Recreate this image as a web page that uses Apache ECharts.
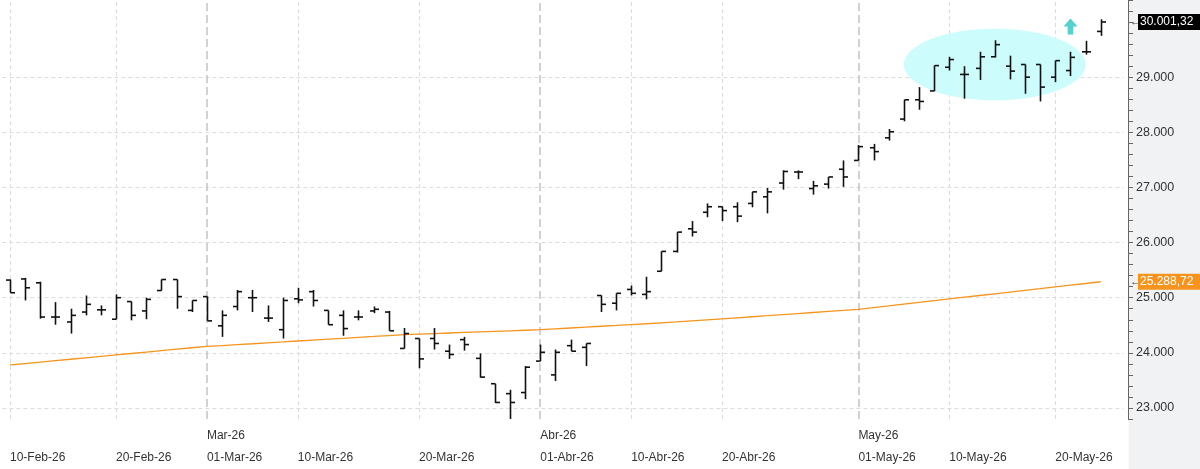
<!DOCTYPE html>
<html><head><meta charset="utf-8">
<script src="https://cdn.jsdelivr.net/npm/echarts@6/dist/echarts.min.js"></script>
<style>html,body{margin:0;padding:0;background:#fff}#c{width:1200px;height:469px}</style>
</head><body><div id="c"></div>
<script>
const opens  = [25320,25340,25270,24650,24560,24740,24780,24610,24930,24760,25130,25330,24770,25020,24490,24840,25000,24630,24420,24980,25110,24770,24680,24650,24760,24740,24080,24260,24260,24030,24240,23900,23440,23260,23280,23850,23600,24130,24100,25040,24900,25150,25060,25480,25840,26250,26550,26650,26650,26710,26830,27080,27280,26980,27060,27330,27490,27720,27900,28240,28590,28750,29180,29050,29160,29370,29200,29230,29230,29000,29120,29460,29830];
const highs  = [25330,25360,25290,24920,24800,25040,24860,25060,24930,25000,25330,25330,24950,25020,24770,25140,25140,24860,25000,25180,25140,24770,24770,24770,24840,24760,24450,24260,24450,24150,24290,23990,23440,23330,23760,24150,24060,24240,24170,25040,25080,25220,25380,25840,26190,26390,26710,26650,26730,26920,26990,27310,27310,27120,27190,27490,27770,27790,28060,28590,28820,29210,29370,29200,29460,29670,29390,29230,29230,29300,29460,29660,30050];
const lows   = [25090,24950,24620,24510,24350,24680,24680,24610,24590,24610,25130,24800,24740,24580,24290,24770,24740,24560,24260,24900,24840,24510,24310,24590,24720,24400,24080,23720,24060,23890,24040,23550,23090,22800,23160,23850,23490,24030,23760,24740,24770,25040,24970,25480,25820,26110,26460,26390,26370,26640,26530,26960,27150,26870,26980,27010,27490,27490,27850,28200,28410,28750,29120,28610,28950,29360,28960,28700,28560,28910,29020,29410,29750];
const closes = [25090,25180,24650,24650,24680,24880,24780,25000,24680,24970,25330,25020,24950,24580,24680,25110,25000,24630,24950,24960,24950,24510,24440,24650,24790,24400,24350,23890,24170,23970,24150,23560,23100,23100,23740,24010,24010,24030,24170,24880,25080,25080,25110,25840,26190,26190,26650,26580,26480,26920,26920,27290,27280,27030,27190,27190,27740,27650,28010,28590,28560,29210,29320,29050,29370,29590,29110,29000,28820,29300,29360,29460,30001.32];
const movingAvg = [23780,23806,23832,23858,23884,23910,23936,23962,23988,24014,24040,24066,24092,24116,
 24132,24149,24165,24182,24198,24215,24231,24248,24264,24281,24297,24314,24330,
 24340,24350,24360,24370,24380,24390,24400,24410,24420,
 24435,24451,24466,24482,24497,24513,24528,24544,24560,
 24579,24598,24617,24636,24655,24674,24694,24713,24732,24751,24770,24790,
 24821,24852,24884,24915,24946,24977,25009,25040,25071,25102,25133,25164,25196,25227,25258,25289.72];
const tickIdx   = [0,7,13,19,27,35,41,47,56,62,69];
const tickDays  = ['10-Feb-26','20-Feb-26','01-Mar-26','10-Mar-26','20-Mar-26','01-Abr-26','10-Abr-26','20-Abr-26','01-May-26','10-May-26','20-May-26'];
const monthIdx  = [13,35,56];
const monthText = ['Mar-26','Abr-26','May-26'];
const yGridVals = [23000,24000,25000,26000,27000,28000,29000];
const lastClose = 30001.32, lastMA = 25288.72;

const N = 74;
const cats = Array.from({length:N},(_,i)=>String(i));
const ohlc = opens.map((o,i)=>[i,o,highs[i],lows[i],closes[i]]);
const fmt = v => v.toLocaleString('de-DE',{minimumFractionDigits:0});
const FONT = 'Liberation Sans';

const chart = echarts.init(document.getElementById('c'));
chart.setOption({
  animation:false,
  textStyle:{fontFamily:FONT},
  grid:{left:2.4,right:76.5,top:-5,bottom:46},
  xAxis:{type:'category',data:cats,boundaryGap:true,
    axisLine:{show:false},axisTick:{show:false},splitLine:{show:false},
    axisLabel:{interval:(i)=>tickIdx.includes(i),align:'left',margin:6,color:'#333',fontSize:12,lineHeight:22,
      formatter:(v)=>{const i=+v;const k=tickIdx.indexOf(i);const m=monthIdx.indexOf(i);
        return (m>=0?monthText[m]:' ')+'\n'+(k>=0?tickDays[k]:'');}}},
  yAxis:{type:'value',position:'right',offset:4.5,min:22800,max:30400,interval:200,
    axisLine:{show:true,lineStyle:{color:'#666'}},
    axisTick:{show:true,length:5,lineStyle:{color:'#666'}},
    splitLine:{show:false},
    axisLabel:{color:'#333',fontSize:12.5,margin:8,formatter:v=>(v%1000===0&&v>=23000&&v<=29000)?fmt(v):''}},
  series:[
    {type:'line',data:[],z:0,zlevel:0,
      markLine:{silent:true,symbol:'none',label:{show:false},animation:false,z:0,
        data:[
          ...yGridVals.map(v=>({yAxis:v,lineStyle:{color:'#dcdcdc',type:[4,3],width:1}})),
          ...tickIdx.filter(i=>!monthIdx.includes(i)).map(i=>({xAxis:i,lineStyle:{color:'#dcdcdc',type:[4,3],width:1}})),
          ...monthIdx.map(i=>({xAxis:i,lineStyle:{color:'#c4c4c4',type:[8,4],width:1.5}}))
        ]}},
    {type:'line',data:movingAvg,symbol:'none',lineStyle:{color:'#f7941d',width:1.3},z:3},
    {type:'custom',data:ohlc,z:4,clip:false,
      renderItem:(params,api)=>{
        const x=api.value(0);
        const pO=api.coord([x,api.value(1)]),pH=api.coord([x,api.value(2)]),pL=api.coord([x,api.value(3)]),pC=api.coord([x,api.value(4)]);
        const cx=Math.round(pO[0])+0.5, w=4.5;
        const st={stroke:'#111',lineWidth:1.6};
        return {type:'group',children:[
          {type:'line',shape:{x1:cx,y1:pH[1],x2:cx,y2:pL[1]},style:st},
          {type:'line',shape:{x1:cx-w,y1:pO[1],x2:cx,y2:pO[1]},style:st},
          {type:'line',shape:{x1:cx,y1:pC[1],x2:cx+w,y2:pC[1]},style:st}]};
      }},
    {type:'scatter',data:[[70,29920]],symbol:'path://M5,0 L10,6 L7,6 L7,12 L3,12 L3,6 L0,6 Z',symbolSize:[14,16],
      itemStyle:{color:'#2bc4c4'},z:5}
  ]
});

function px(i,v){return chart.convertToPixel({xAxisIndex:0,yAxisIndex:0},[i,v]);}
const c0=px(65,29230), cR=px(70.5,29230), cT=px(65,29880);
const axX = 1128;
const pLast=px(72,lastClose), pMA=px(72,lastMA);
chart.setOption({graphic:[
  {type:'ellipse',shape:{cx:c0[0],cy:c0[1],rx:cR[0]-c0[0],ry:c0[1]-cT[1]},style:{fill:'#ccfcfc'},z:2,silent:true},
  {type:'rect',shape:{x:axX+0.5,y:0,width:1200-axX,height:469},style:{fill:'#f1f2f4'},z:-1,silent:true},
  {type:'text',x:axX+2,y:pLast[1],style:{text:'←',fill:'#444',font:'11px '+FONT,verticalAlign:'middle'},z:10},
  {type:'rect',shape:{x:axX+10,y:pLast[1]-8,width:62,height:16},style:{fill:'#000'},z:10},
  {type:'text',x:axX+12,y:pLast[1],style:{text:'30.001,32',fill:'#fff',font:'12px '+FONT,verticalAlign:'middle'},z:11},
  {type:'text',x:axX+2,y:pMA[1],style:{text:'←',fill:'#444',font:'11px '+FONT,verticalAlign:'middle'},z:10},
  {type:'rect',shape:{x:axX+10,y:pMA[1]-8,width:62,height:16},style:{fill:'#f7941d'},z:10},
  {type:'text',x:axX+12,y:pMA[1],style:{text:'25.288,72',fill:'#fff',font:'12px '+FONT,verticalAlign:'middle'},z:11}
]});
</script></body></html>
